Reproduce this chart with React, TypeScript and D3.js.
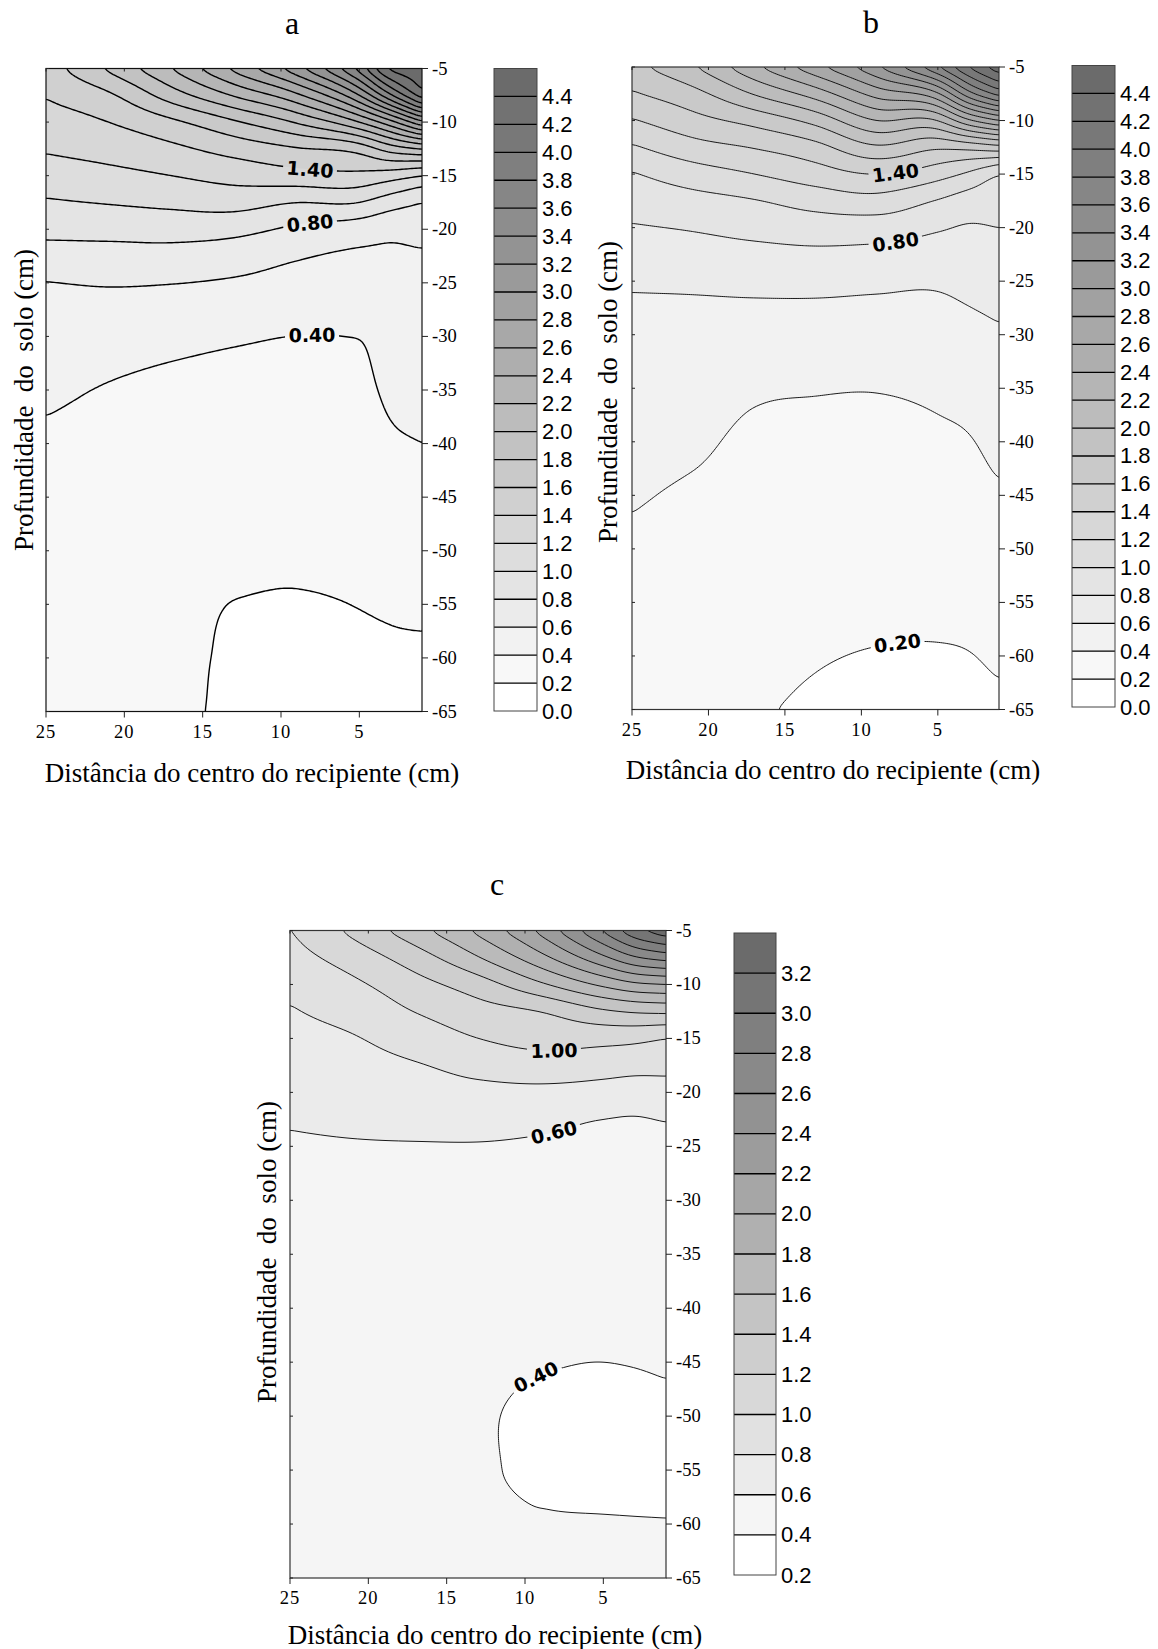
import React, { useMemo } from 'react';
import * as d3 from 'd3';

// ---------------- DATA ----------------
// Grid knots: depth (cm, rows top->bottom) and distance from centre (cm, columns left->right)
const DEPTH_KNOTS = [-5, -7.5, -10, -12.5, -15, -17.5, -20, -22.5, -25, -30, -35, -40, -45, -50, -55, -60, -65];
const DIST_KNOTS = [25, 21, 17, 13, 9, 5, 3, 1];

// Panel a: one column of values per distance knot (values listed from depth -5 to -65)
const A_GRID = [
  [1.50, 1.41, 1.315, 1.22, 1.10, 0.98, 0.86, 0.71, 0.595, 0.515, 0.435, 0.37, 0.345, 0.32, 0.30, 0.29, 0.28],
  [1.84, 1.567, 1.40, 1.275, 1.146, 1.011, 0.861, 0.730, 0.614, 0.488, 0.388, 0.345, 0.32, 0.295, 0.275, 0.26, 0.25],
  [2.21, 1.90, 1.557, 1.356, 1.20, 1.044, 0.876, 0.73, 0.605, 0.454, 0.354, 0.32, 0.29, 0.26, 0.24, 0.225, 0.215],
  [2.66, 2.218, 1.771, 1.476, 1.269, 1.077, 0.857, 0.694, 0.578, 0.422, 0.337, 0.30, 0.265, 0.23, 0.198, 0.19, 0.19],
  [3.15, 2.556, 2.02, 1.58, 1.33, 1.0, 0.765, 0.618, 0.535, 0.398, 0.335, 0.28, 0.24, 0.215, 0.195, 0.185, 0.18],
  [3.9, 3.2, 2.4, 1.675, 1.35, 1.0, 0.692, 0.572, 0.518, 0.403, 0.355, 0.31, 0.27, 0.24, 0.202, 0.19, 0.185],
  [4.47, 3.775, 2.73, 1.89, 1.29, 0.89, 0.646, 0.578, 0.549, 0.49, 0.433, 0.377, 0.325, 0.273, 0.212, 0.19, 0.185],
  [4.55, 4.31, 3.16, 2.01, 1.2, 0.8, 0.657, 0.584, 0.558, 0.505, 0.453, 0.40, 0.347, 0.295, 0.225, 0.185, 0.18],
];

// Panel b
const B_GRID = [
  [1.74, 1.577, 1.383, 1.175, 0.984, 0.882, 0.785, 0.71, 0.625, 0.545, 0.505, 0.462, 0.416, 0.37, 0.34, 0.32, 0.30],
  [1.99, 1.736, 1.533, 1.325, 1.105, 0.933, 0.814, 0.727, 0.632, 0.545, 0.49, 0.433, 0.375, 0.34, 0.31, 0.285, 0.265],
  [2.37, 2.014, 1.667, 1.41, 1.2, 0.989, 0.858, 0.746, 0.646, 0.525, 0.424, 0.367, 0.33, 0.30, 0.27, 0.24, 0.215],
  [2.75, 2.291, 1.867, 1.533, 1.308, 1.08, 0.897, 0.761, 0.652, 0.516, 0.41, 0.363, 0.327, 0.288, 0.249, 0.21, 0.18],
  [3.19, 2.68, 2.2, 1.767, 1.4, 1.129, 0.896, 0.748, 0.639, 0.513, 0.406, 0.361, 0.319, 0.277, 0.235, 0.193, 0.16],
  [3.82, 2.97, 2.2, 1.63, 1.28, 0.987, 0.82, 0.718, 0.626, 0.524, 0.432, 0.372, 0.327, 0.282, 0.236, 0.19, 0.17],
  [4.23, 3.52, 2.56, 1.66, 1.167, 0.912, 0.784, 0.717, 0.651, 0.548, 0.46, 0.39, 0.346, 0.296, 0.246, 0.196, 0.175],
  [4.55, 3.88, 2.80, 1.73, 1.0, 0.9, 0.80, 0.743, 0.683, 0.58, 0.513, 0.446, 0.382, 0.327, 0.272, 0.217, 0.18],
];

// Panel c
const C_GRID = [
  [0.995, 0.924, 0.848, 0.785, 0.741, 0.698, 0.655, 0.612, 0.585, 0.555, 0.53, 0.51, 0.495, 0.48, 0.47, 0.46, 0.455],
  [1.25, 1.088, 0.963, 0.870, 0.787, 0.735, 0.682, 0.629, 0.59, 0.555, 0.525, 0.50, 0.48, 0.465, 0.455, 0.45, 0.445],
  [1.531, 1.305, 1.128, 1.005, 0.891, 0.786, 0.719, 0.651, 0.59, 0.545, 0.51, 0.48, 0.46, 0.445, 0.44, 0.44, 0.44],
  [1.85, 1.59, 1.305, 1.12, 1.0, 0.861, 0.75, 0.661, 0.59, 0.535, 0.49, 0.46, 0.442, 0.42, 0.42, 0.44, 0.45],
  [2.26, 1.939, 1.569, 1.2, 1.068, 0.911, 0.753, 0.637, 0.58, 0.52, 0.48, 0.445, 0.411, 0.366, 0.366, 0.414, 0.43],
  [2.836, 2.362, 1.842, 1.369, 1.063, 0.88, 0.73, 0.598, 0.575, 0.525, 0.48, 0.44, 0.40, 0.36, 0.35, 0.41, 0.435],
  [3.157, 2.58, 1.958, 1.42, 1.048, 0.86, 0.714, 0.59, 0.575, 0.53, 0.49, 0.45, 0.405, 0.36, 0.352, 0.407, 0.43],
  [3.35, 2.686, 2.0, 1.44, 1.0, 0.853, 0.724, 0.605, 0.58, 0.54, 0.50, 0.46, 0.415, 0.37, 0.355, 0.405, 0.43],
];

// Legend class edges
const EDGES_AB = [0, 0.2, 0.4, 0.6, 0.8, 1.0, 1.2, 1.4, 1.6, 1.8, 2.0, 2.2, 2.4, 2.6, 2.8, 3.0, 3.2, 3.4, 3.6, 3.8, 4.0, 4.2, 4.4, 4.6];
const EDGES_C = [0.2, 0.4, 0.6, 0.8, 1.0, 1.2, 1.4, 1.6, 1.8, 2.0, 2.2, 2.4, 2.6, 2.8, 3.0, 3.2, 3.4];

// Axis ticks
const DEPTH_TICKS = [-5, -10, -15, -20, -25, -30, -35, -40, -45, -50, -55, -60, -65];
const DIST_TICKS = [25, 20, 15, 10, 5];

// Contour labels: level, distance where placed, text
const A_LABELS = [
  { v: 1.4, x: 8.1, text: '1.40' },
  { v: 0.8, x: 8.1, text: '0.80' },
  { v: 0.4, x: 8.0, text: '0.40' },
];
const B_LABELS = [
  { v: 1.4, x: 7.8, text: '1.40' },
  { v: 0.8, x: 7.8, text: '0.80' },
  { v: 0.2, x: 7.7, text: '0.20' },
];
const C_LABELS = [
  { v: 1.0, x: 8.2, text: '1.00' },
  { v: 0.6, x: 8.2, text: '0.60' },
  { v: 0.4, x: 9.3, text: '0.40' },
];

// ---------------- HELPERS ----------------
function cubic(xs: number[], ys: number[]) {
  const n = xs.length;
  const dx: number[] = [];
  const m: number[] = [];
  for (let i = 0; i < n - 1; i++) {
    dx[i] = xs[i + 1] - xs[i];
    m[i] = (ys[i + 1] - ys[i]) / dx[i];
  }
  const t: number[] = new Array(n);
  t[0] = m[0];
  t[n - 1] = m[n - 2];
  for (let i = 1; i < n - 1; i++) {
    const c = (dx[i] * m[i - 1] + dx[i - 1] * m[i]) / (dx[i - 1] + dx[i]);
    if (m[i - 1] * m[i] > 0) {
      const lim = 3 * Math.min(Math.abs(m[i - 1]), Math.abs(m[i]));
      t[i] = Math.sign(c) * Math.min(Math.abs(c), lim);
    } else t[i] = c;
  }
  return (x: number) => {
    let i = d3.bisectRight(xs, x) - 1;
    if (i < 0) i = 0;
    if (i > n - 2) i = n - 2;
    const h = dx[i];
    const s = (x - xs[i]) / h;
    const s2 = s * s;
    const s3 = s2 * s;
    return (2 * s3 - 3 * s2 + 1) * ys[i] + (s3 - 2 * s2 + s) * h * t[i] + (-2 * s3 + 3 * s2) * ys[i + 1] + (s3 - s2) * h * t[i + 1];
  };
}

function boxBlur(v: number[], nx: number, ny: number, r: number) {
  const tmp = new Array(nx * ny);
  for (let j = 0; j < ny; j++) {
    for (let i = 0; i < nx; i++) {
      let s = 0;
      for (let k = -r; k <= r; k++) {
        const ii = Math.max(0, Math.min(nx - 1, i + k));
        s += v[j * nx + ii];
      }
      tmp[j * nx + i] = s / (2 * r + 1);
    }
  }
  for (let j = 0; j < ny; j++) {
    for (let i = 0; i < nx; i++) {
      let s = 0;
      for (let k = -r; k <= r; k++) {
        const jj = Math.max(0, Math.min(ny - 1, j + k));
        s += tmp[jj * nx + i];
      }
      v[j * nx + i] = s / (2 * r + 1);
    }
  }
}

const NX = 189;
const NY = 321;

function buildField(grid: number[][]) {
  const xsAsc = DIST_KNOTS.slice().reverse();
  const dAsc = DEPTH_KNOTS.slice().reverse();
  const rowInterps = DEPTH_KNOTS.map((_, r) => cubic(xsAsc, DIST_KNOTS.map((__, c) => grid[c][r]).reverse()));
  const values = new Array(NX * NY);
  for (let i = 0; i < NX; i++) {
    const xv = 25 - (24 * i) / (NX - 1);
    const col = rowInterps.map((f) => f(xv)).reverse();
    const fd = cubic(dAsc, col);
    for (let j = 0; j < NY; j++) {
      const dv = -5 - (60 * j) / (NY - 1);
      values[j * NX + i] = fd(dv);
    }
  }
  boxBlur(values, NX, NY, 2);
  boxBlur(values, NX, NY, 2);
  return values as number[];
}

type Rect = { l: number; r: number; t: number; b: number };
type PanelCfg = {
  id: string;
  title: string;
  grid: number[][];
  edges: number[];
  darkest: number;
  labels: { v: number; x: number; text: string }[];
  plot: Rect;
  bar: Rect;
  titlePos: [number, number];
  yTitlePos: [number, number];
  xTitlePos: [number, number];
  lineWidth: number;
  frameColor: string;
};

const PANELS: PanelCfg[] = [
  {
    id: 'a', title: 'a', grid: A_GRID, edges: EDGES_AB, darkest: 107, labels: A_LABELS,
    plot: { l: 46, r: 422, t: 68.5, b: 711.5 },
    bar: { l: 494, r: 537, t: 68.5, b: 711 },
    titlePos: [292, 34], yTitlePos: [24, 400], xTitlePos: [252, 773], lineWidth: 1.4, frameColor: '#111',
  },
  {
    id: 'b', title: 'b', grid: B_GRID, edges: EDGES_AB, darkest: 107, labels: B_LABELS,
    plot: { l: 632, r: 999, t: 67, b: 709.5 },
    bar: { l: 1072, r: 1115, t: 65.5, b: 707 },
    titlePos: [871, 33], yTitlePos: [608, 392], xTitlePos: [833, 770], lineWidth: 0.9, frameColor: '#333',
  },
  {
    id: 'c', title: 'c', grid: C_GRID, edges: EDGES_C, darkest: 107, labels: C_LABELS,
    plot: { l: 290, r: 666, t: 930.5, b: 1578 },
    bar: { l: 734, r: 776, t: 933, b: 1575 },
    titlePos: [497, 895], yTitlePos: [267, 1252], xTitlePos: [495, 1635], lineWidth: 0.9, frameColor: '#333',
  },
];

const SERIF = '"Liberation Serif", "Times New Roman", serif';
const SANS = '"Liberation Sans", Arial, sans-serif';
const LABEL_FONT = '"DejaVu Sans", sans-serif';
const LABEL_SIZE = 19;

function Panel({ cfg }: { cfg: PanelCfg }) {
  const { plot: p, bar } = cfg;
  const xScale = d3.scaleLinear().domain([25, 1]).range([p.l, p.r]);
  const yScale = d3.scaleLinear().domain([-5, -65]).range([p.t, p.b]);
  const nBands = cfg.edges.length - 1;
  const step = (255 - cfg.darkest) / (nBands - 1);
  const bandColor = (k: number) => {
    const g = Math.round(255 - k * step);
    return d3.rgb(g, g, g).formatHex();
  };
  const barScale = d3.scaleLinear().domain([cfg.edges[0], cfg.edges[nBands]]).range([bar.b, bar.t]);

  const computed = useMemo(() => {
    const values = buildField(cfg.grid);
    const thresholds = cfg.edges.slice(1, nBands);
    const contours = d3.contours().size([NX, NY]).smooth(true).thresholds(thresholds)(values);
    const sx = (p.r - p.l) / (NX - 1);
    const sy = (p.b - p.t) / (NY - 1);
    const proj = d3.geoTransform({
      point(x: number, y: number) {
        (this as any).stream.point(p.l + (x - 0.5) * sx, p.t + (y - 0.5) * sy);
      },
    });
    const path = d3.geoPath(proj as any);
    const paths = contours.map((c, k) => ({ d: path(c as any) || '', k: k + 1, v: c.value }));

    const crossing = (xv: number, t: number) => {
      const i = Math.max(0, Math.min(NX - 1, Math.round(((25 - xv) / 24) * (NX - 1))));
      for (let j = 0; j < NY - 1; j++) {
        const a = values[j * NX + i] - t;
        const b = values[(j + 1) * NX + i] - t;
        if (a >= 0 && b < 0) {
          const fy = j + a / (a - b);
          return [p.l + i * sx, p.t + fy * sy];
        }
      }
      return null;
    };
    const labels = cfg.labels.map((lb) => {
      const c0 = crossing(lb.x, lb.v);
      const c1 = crossing(lb.x + 0.8, lb.v);
      const c2 = crossing(lb.x - 0.8, lb.v);
      let angle = 0;
      if (c1 && c2) angle = (Math.atan2(c2[1] - c1[1], c2[0] - c1[0]) * 180) / Math.PI;
      return { ...lb, pos: c0, angle };
    });
    return { paths, labels };
  }, [cfg]);

  const clipId = `clip-${cfg.id}`;
  const maskId = `mask-${cfg.id}`;
  const labelW = 54;
  const labelH = 17;

  return (
    <g>
      <defs>
        <clipPath id={clipId}>
          <rect x={p.l} y={p.t} width={p.r - p.l} height={p.b - p.t} />
        </clipPath>
        <mask id={maskId} maskUnits="userSpaceOnUse" x={0} y={0} width={1158} height={1649}>
          <rect x={0} y={0} width={1158} height={1649} fill="white" />
          {computed.labels.map((lb, i) =>
            lb.pos ? (
              <rect key={i} x={-labelW / 2} y={-labelH / 2} width={labelW} height={labelH} fill="black"
                transform={`translate(${lb.pos[0]},${lb.pos[1]}) rotate(${lb.angle})`} />
            ) : null
          )}
        </mask>
      </defs>

      {/* title */}
      <text x={cfg.titlePos[0]} y={cfg.titlePos[1]} textAnchor="middle" fontFamily={SERIF} fontSize={32}>{cfg.title}</text>

      {/* filled contours */}
      <g clipPath={`url(#${clipId})`}>
        <rect x={p.l} y={p.t} width={p.r - p.l} height={p.b - p.t} fill={bandColor(0)} />
        {computed.paths.map((c) => (
          <path key={c.k} d={c.d} fill={bandColor(c.k)} stroke="none" />
        ))}
        <g mask={`url(#${maskId})`}>
          {computed.paths.map((c) => (
            <path key={c.k} d={c.d} fill="none" stroke="#000" strokeWidth={cfg.lineWidth} strokeLinejoin="round" />
          ))}
        </g>
      </g>

      {/* contour labels */}
      {computed.labels.map((lb, i) =>
        lb.pos ? (
          <text key={i} transform={`translate(${lb.pos[0]},${lb.pos[1]}) rotate(${lb.angle})`} textAnchor="middle"
            dominantBaseline="central" fontFamily={LABEL_FONT} fontWeight="bold" fontSize={LABEL_SIZE} fill="#000">{lb.text}</text>
        ) : null
      )}

      {/* frame */}
      <rect x={p.l} y={p.t} width={p.r - p.l} height={p.b - p.t} fill="none" stroke={cfg.frameColor} strokeWidth={1.2} />

      {/* right depth axis */}
      {DEPTH_TICKS.map((d) => (
        <g key={d}>
          <line x1={p.r} x2={p.r + 6} y1={yScale(d)} y2={yScale(d)} stroke="#222" strokeWidth={1} />
          <line x1={p.l} x2={p.l + 3} y1={yScale(d)} y2={yScale(d)} stroke="#222" strokeWidth={1} />
          <text x={p.r + 10} y={yScale(d)} dominantBaseline="central" fontFamily={SERIF} fontSize={18.5}>{d}</text>
        </g>
      ))}
      {/* bottom distance axis */}
      {DIST_TICKS.map((x) => (
        <g key={x}>
          <line x1={xScale(x)} x2={xScale(x)} y1={p.b} y2={p.b + 6} stroke="#222" strokeWidth={1} />
          <line x1={xScale(x)} x2={xScale(x)} y1={p.t} y2={p.t + 3} stroke="#222" strokeWidth={1} />
          <text x={xScale(x)} y={p.b + 20} textAnchor="middle" dominantBaseline="central" fontFamily={SERIF} fontSize={18.5}
            letterSpacing={1}>{x}</text>
        </g>
      ))}

      {/* axis titles */}
      <text x={cfg.xTitlePos[0]} y={cfg.xTitlePos[1]} textAnchor="middle" dominantBaseline="central" fontFamily={SERIF} fontSize={27}>
        Distância do centro do recipiente (cm)
      </text>
      <text transform={`translate(${cfg.yTitlePos[0]},${cfg.yTitlePos[1]}) rotate(-90)`} textAnchor="middle" dominantBaseline="central"
        fontFamily={SERIF} fontSize={27} style={{ whiteSpace: 'pre' }}>
        {'Profundidade  do  solo (cm)'}
      </text>

      {/* colour bar */}
      <g>
        {d3.range(nBands).map((k) => (
          <rect key={k} x={bar.l} y={barScale(cfg.edges[k + 1])} width={bar.r - bar.l}
            height={barScale(cfg.edges[k]) - barScale(cfg.edges[k + 1])} fill={bandColor(k)} />
        ))}
        {cfg.edges.slice(1, nBands).map((e) => (
          <line key={e} x1={bar.l} x2={bar.r} y1={barScale(e)} y2={barScale(e)} stroke="#000" strokeWidth={1.3} />
        ))}
        <rect x={bar.l} y={bar.t} width={bar.r - bar.l} height={bar.b - bar.t} fill="none" stroke="#444" strokeWidth={1} />
        {cfg.edges.slice(0, nBands).map((e) => (
          <text key={e} x={bar.r + 5} y={barScale(e)} dominantBaseline="central" fontFamily={SANS} fontSize={22}>{e.toFixed(1)}</text>
        ))}
      </g>
    </g>
  );
}

export default function App() {
  return (
    <svg width={1158} height={1649} viewBox="0 0 1158 1649"
      style={{ position: 'absolute', left: 0, top: 0, display: 'block', background: '#fff' }}>
      <rect x={0} y={0} width={1158} height={1649} fill="#fff" />
      {PANELS.map((cfg) => (
        <Panel key={cfg.id} cfg={cfg} />
      ))}
    </svg>
  );
}
